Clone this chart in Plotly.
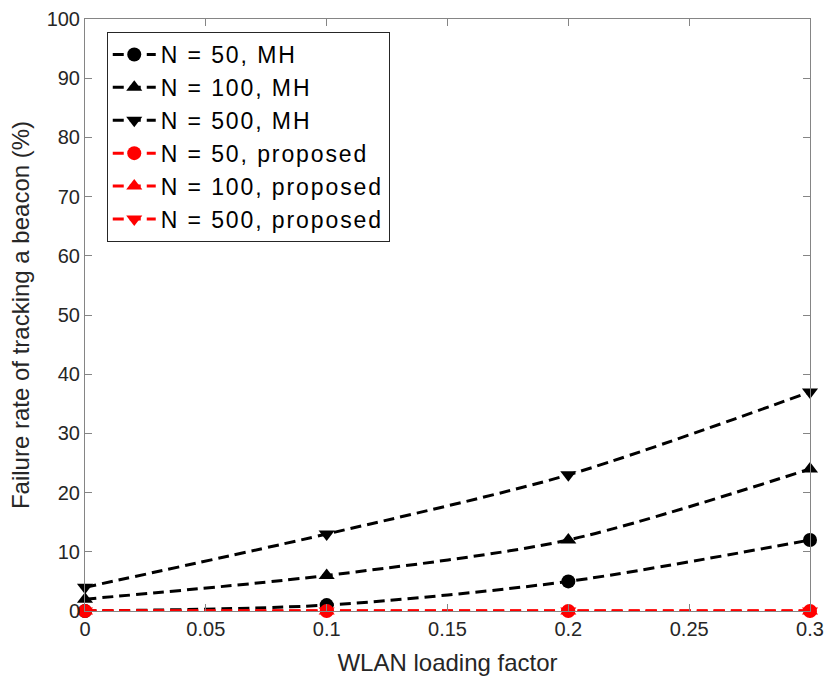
import plotly.graph_objects as go

x_vals = [0, 0.1, 0.2, 0.3]
mh_50 = [0, 1, 5, 12]
mh_100 = [2, 6, 12, 24]
mh_500 = [4, 13, 23, 37]
prop_50 = [0, 0, 0, 0]
prop_100 = [0, 0, 0, 0]
prop_500 = [0, 0, 0, 0]

series = [
    ("N = 50, MH", mh_50, "black", "circle"),
    ("N = 100, MH", mh_100, "black", "triangle-up"),
    ("N = 500, MH", mh_500, "black", "triangle-down"),
    ("N = 50, proposed", prop_50, "red", "circle"),
    ("N = 100, proposed", prop_100, "red", "triangle-up"),
    ("N = 500, proposed", prop_500, "red", "triangle-down"),
]

FONT = "Liberation Sans, Arial, Helvetica"

fig = go.Figure()
for name, ys, col, sym in series:
    fig.add_trace(go.Scatter(
        x=x_vals, y=ys, mode="lines+markers",
        name='<span style="letter-spacing:1.9px">' + name + '</span>',
        line=dict(color=col, width=3, dash="11px,6px", shape="spline", smoothing=0.8),
        marker=dict(symbol=sym, size=14, color=col),
        cliponaxis=False,
    ))

axis_common = dict(
    showline=True, linecolor="#858585", linewidth=1, mirror="ticks",
    ticks="inside", tickcolor="#858585", ticklen=7, showgrid=False, zeroline=False,
    automargin=False,
    tickfont=dict(family=FONT, size=20, color="#262626"),
)

fig.update_layout(
    template="none",
    width=828, height=678,
    margin=dict(l=85, r=18, t=19, b=67),
    plot_bgcolor="white", paper_bgcolor="white",
    xaxis=dict(range=[0, 0.3], tickvals=[0, 0.05, 0.1, 0.15, 0.2, 0.25, 0.3],
               ticktext=["0", "0.05", "0.1", "0.15", "0.2", "0.25", "0.3"],
               title=dict(text="WLAN loading factor", standoff=15,
                          font=dict(family=FONT, size=24, color="#262626")),
               **axis_common),
    yaxis=dict(range=[0, 100], dtick=10,
               title=dict(text="Failure rate of tracking a beacon (%)", standoff=10,
                          font=dict(family=FONT, size=24, color="#262626")),
               **axis_common),
    legend=dict(x=0.030, y=0.978, xanchor="left", yanchor="top",
                bgcolor="white", bordercolor="#262626", borderwidth=1,
                font=dict(family=FONT, size=23, color="black"),
                tracegroupgap=0, itemwidth=43),
    showlegend=True,
)

fig.write_html("out.html", config={"displayModeBar": False},
               post_script="document.body.style.margin='0';document.body.style.overflow='hidden';")
